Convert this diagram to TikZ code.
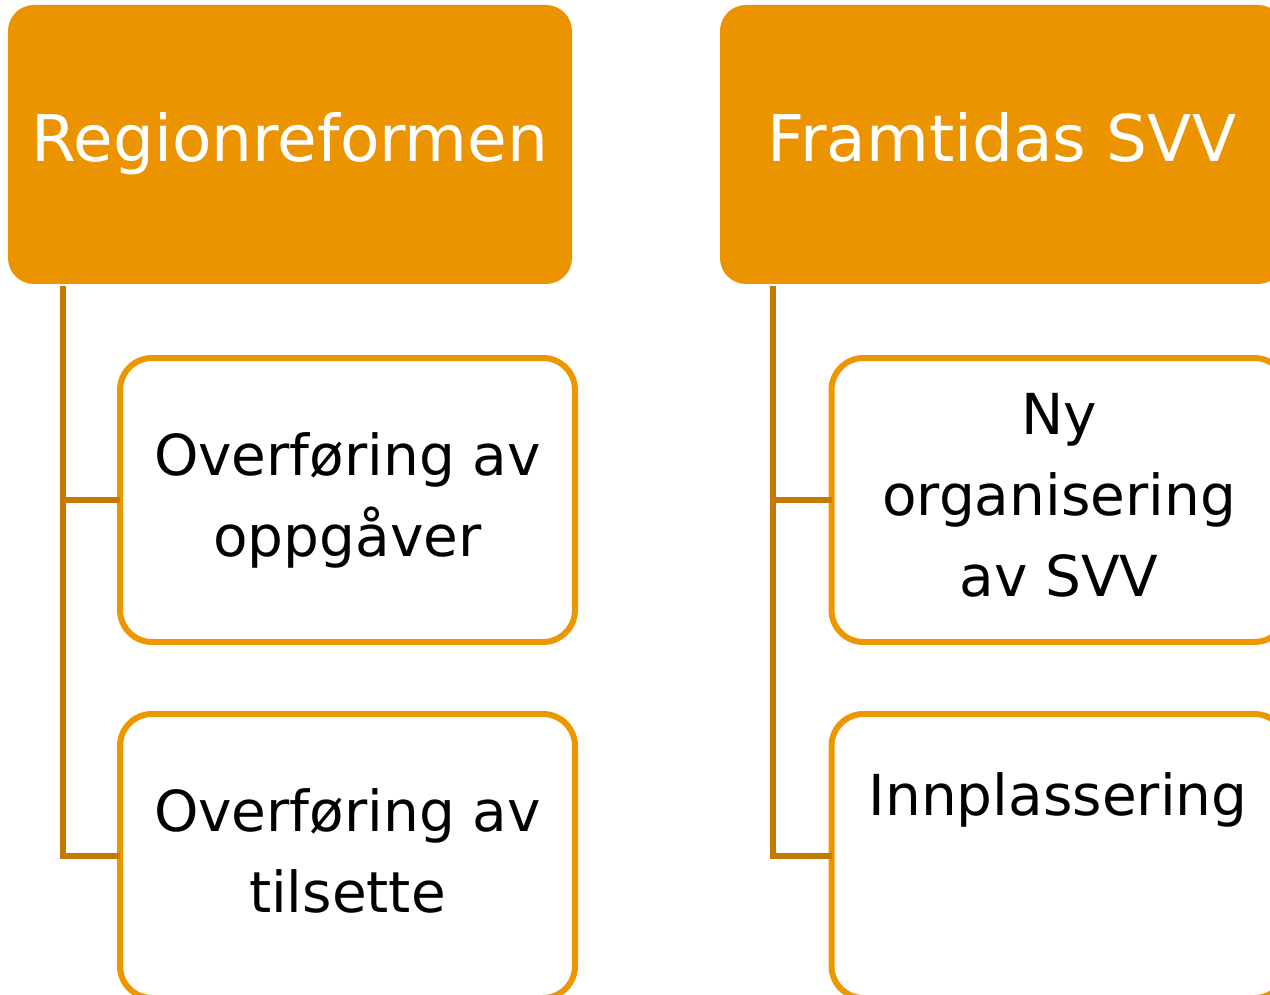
\documentclass[tikz,border=0pt]{standalone}
\usepackage{fontspec}
\setmainfont{DejaVu Sans}
\definecolor{topfill}{RGB}{236,148,0}
\definecolor{childline}{RGB}{238,150,0}
\definecolor{connline}{RGB}{196,122,0}
\begin{document}
\begin{tikzpicture}[x=1pt,y=-1pt,
  topbox/.style={fill=topfill, rounded corners=26pt, minimum width=564pt, minimum height=279pt, inner sep=0pt, outer sep=0pt},
  childbox/.style={draw=childline, line width=6pt, fill=white, rounded corners=32pt, minimum width=455pt, minimum height=284pt, inner sep=0pt, outer sep=0pt},
  conn/.style={draw=connline, line width=6pt},
  toptext/.style={text=white, font=\fontsize{64.5}{77}\selectfont, inner sep=0pt},
  childtext/.style={text=black, font=\fontsize{56.5}{81}\selectfont, align=center, inner sep=0pt}]
\useasboundingbox (0,0) rectangle (1270,995);
\clip (0,0) rectangle (1270,995);
% top boxes
\node[topbox] (top1) at (290,144.5) {};
\node[topbox] (top2) at (1002,144.5) {};
% connector start points
\coordinate (s1) at (63,286);
\coordinate (s2) at (773,286);
% child boxes
\node[childbox] (c1) at (347.5,500) {};
\node[childbox] (c2) at (347.5,856) {};
\node[childbox] (r1) at (1059,500) {};
\node[childbox] (r2) at (1059,856) {};
% connectors
\draw[conn] (s1) |- (c1.west);
\draw[conn] (s1) |- (c2.west);
\draw[conn] (s2) |- (r1.west);
\draw[conn] (s2) |- (r2.west);
% texts
\node[toptext, anchor=base] (t1) at (290,162) {Regionreformen};
\node[toptext, anchor=base] (t2) at (1002,162) {Framtidas SVV};
\node[childtext] (tc1) at (347.5,500.4) {Overføring av\\oppgåver};
\node[childtext] (tc2) at (347.5,850.7) {Overføring av\\tilsette};
\node[childtext] (tr1) at (1059,495.6) {Ny\\organisering\\av SVV};
\node[childtext, anchor=base] (tr2) at (1058,815) {Innplassering};
\end{tikzpicture}
\end{document}
